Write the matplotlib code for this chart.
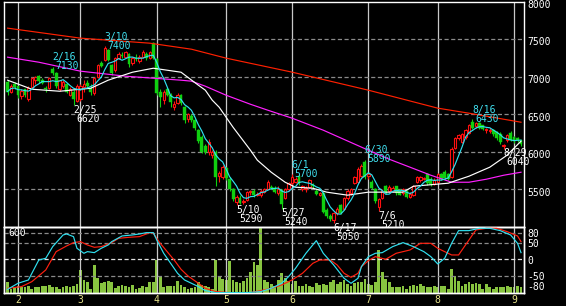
import numpy as np
import pandas as pd
import matplotlib
matplotlib.use('Agg')
import matplotlib.pyplot as plt
from matplotlib.transforms import offset_copy, blended_transform_factory

plt.rcParams['lines.scale_dashes'] = False
plt.rcParams['font.family'] = ['DejaVu Sans Mono']

# ---------------- data ----------------
holidays = ['2022-02-11', '2022-02-23', '2022-03-21', '2022-04-29', '2022-05-03',
            '2022-05-04', '2022-05-05', '2022-07-18', '2022-08-11']
days = pd.bdate_range('2022-01-27', '2022-09-05')
days = days[~days.isin(pd.to_datetime(holidays))]

opens = [6930, 6800, 6900,
         6870, 6740, 6830, 6700, 6860, 6950, 7000, 6960, 6850, 6850,
         7100, 7040, 6830, 6880, 6900, 6760, 6800, 6680,
         6700, 6860, 6920, 6850, 6780, 7000, 7180, 7220, 7350, 7150,
         7080, 7250, 7280, 7260, 7300, 7180, 7240, 7200, 7260, 7300,
         7250, 7440,
         7230, 6800, 6690, 6830, 6760, 6600, 6650, 6760, 6600, 6430,
         6480, 6420, 6290, 6200, 6080, 5990, 5950, 6000, 5680, 5660,
         5780, 5640, 5500, 5330, 5380, 5330, 5360, 5460, 5480, 5430,
         5420, 5470, 5510, 5530, 5520, 5450, 5490, 5380, 5500, 5580,
         5600, 5680, 5500, 5500, 5530, 5560, 5480, 5430, 5450, 5230,
         5140, 5090, 5180, 5290, 5240, 5380, 5450, 5580, 5600, 5680,
         5860, 5680, 5600, 5510, 5260, 5390, 5540, 5480, 5480, 5540,
         5490, 5450, 5480, 5400, 5420, 5600, 5620, 5640, 5700, 5640,
         5570, 5600, 5700, 5730, 5700, 5660, 6050, 6180, 6130, 6190,
         6250, 6400, 6340, 6380, 6350, 6290, 6270, 6290, 6260, 6230,
         6080, 6150, 6250, 6200, 6180, 6150]
highs = [6950, 6900, 6930,
         6880, 6830, 6840, 6870, 7000, 7010, 7020, 6980, 6880, 7000,
         7130, 7060, 6960, 6960, 6910, 6860, 6820, 6900,
         6900, 6950, 6960, 6900, 7000, 7170, 7200, 7400, 7370, 7170,
         7260, 7330, 7320, 7340, 7310, 7260, 7300, 7280, 7350, 7330,
         7340, 7460,
         7250, 6830, 6820, 6850, 6780, 6680, 6780, 6770, 6610, 6520,
         6500, 6430, 6300, 6220, 6100, 6170, 6020, 6020, 5750, 5820,
         5800, 5660, 5520, 5420, 5420, 5370, 5480, 5490, 5500, 5460,
         5500, 5520, 5620, 5560, 5540, 5540, 5500, 5520, 5600, 5700,
         5660, 5690, 5560, 5540, 5640, 5580, 5500, 5470, 5460, 5250,
         5170, 5200, 5260, 5300, 5400, 5500, 5520, 5680, 5790, 5830,
         5890, 5720, 5620, 5520, 5380, 5500, 5560, 5560, 5540, 5550,
         5500, 5520, 5490, 5460, 5560, 5680, 5680, 5660, 5720, 5660,
         5650, 5720, 5720, 5760, 5720, 6060, 6200, 6240, 6250, 6300,
         6370, 6430, 6400, 6390, 6360, 6320, 6310, 6300, 6280, 6260,
         6100, 6240, 6270, 6210, 6200, 6160]
lows = [6750, 6780, 6840,
        6720, 6700, 6730, 6680, 6850, 6900, 6920, 6900, 6790, 6830,
        7020, 6850, 6810, 6850, 6780, 6740, 6620, 6660,
        6680, 6800, 6850, 6760, 6760, 6980, 7120, 7200, 7200, 7020,
        7060, 7230, 7240, 7240, 7130, 7150, 7200, 7180, 7240, 7220,
        7230, 7230,
        6760, 6600, 6640, 6740, 6600, 6560, 6630, 6620, 6380, 6400,
        6400, 6290, 6120, 5980, 5970, 5960, 5920, 5550, 5600, 5640,
        5620, 5480, 5350, 5290, 5300, 5300, 5350, 5420, 5400, 5410,
        5400, 5450, 5500, 5500, 5450, 5430, 5240, 5370, 5480, 5560,
        5580, 5560, 5480, 5470, 5520, 5520, 5430, 5410, 5180, 5120,
        5080, 5050, 5160, 5170, 5230, 5360, 5430, 5570, 5590, 5660,
        5640, 5640, 5500, 5320, 5210, 5370, 5440, 5460, 5460, 5430,
        5420, 5430, 5380, 5380, 5410, 5590, 5600, 5620, 5560, 5550,
        5560, 5590, 5620, 5630, 5630, 5650, 6030, 6160, 6110, 6170,
        6230, 6300, 6310, 6300, 6290, 6250, 6250, 6210, 6160, 6100,
        6040, 6130, 6140, 6120, 6130, 6080]
closes = [6800, 6880, 6860,
          6760, 6810, 6750, 6850, 6980, 6990, 6940, 6910, 6840, 6980,
          7050, 6880, 6950, 6930, 6800, 6840, 6700, 6880,
          6880, 6900, 6880, 6800, 6980, 7150, 7140, 7380, 7220, 7050,
          7240, 7300, 7270, 7320, 7160, 7240, 7230, 7260, 7330, 7250,
          7320, 7250,
          6780, 6730, 6790, 6760, 6660, 6640, 6760, 6650, 6420, 6500,
          6420, 6310, 6140, 6000, 5990, 6130, 6000, 5670, 5720, 5800,
          5650, 5500, 5370, 5400, 5320, 5350, 5460, 5480, 5420, 5440,
          5480, 5500, 5600, 5520, 5460, 5500, 5310, 5500, 5580, 5660,
          5640, 5580, 5540, 5520, 5620, 5540, 5440, 5450, 5200, 5140,
          5100, 5180, 5240, 5190, 5380, 5480, 5500, 5660, 5770, 5810,
          5660, 5700, 5520, 5340, 5370, 5480, 5460, 5530, 5520, 5450,
          5430, 5500, 5400, 5440, 5540, 5660, 5670, 5650, 5580, 5570,
          5620, 5700, 5640, 5650, 5640, 6040, 6180, 6220, 6230, 6290,
          6350, 6320, 6380, 6320, 6300, 6300, 6290, 6230, 6180, 6130,
          6090, 6220, 6160, 6140, 6150, 6100]
volume = [110, 43, 60,
          77, 67, 67, 77, 43, 60, 67, 77, 77, 87,
          60, 67, 43, 60, 77, 60, 77, 93, 233, 133,
          110, 43, 287, 153, 100, 117, 127, 110, 53, 77,
          87, 77, 60, 87, 43, 50, 77, 60, 110, 110,
          333, 167, 67, 77, 77, 77, 127, 87, 67, 43,
          50, 67, 117, 87, 77, 60, 43, 330, 177, 143,
          133, 327, 133, 110, 100, 127, 153, 217, 310, 283,
          653, 133, 110, 93, 77, 133, 200, 153, 120, 93,
          127, 77, 77, 93, 77, 67, 100, 87, 93, 87,
          110, 133, 93, 110, 133, 93, 77, 100, 117, 110,
          143, 93, 87, 110, 433, 217, 143, 110, 67, 67,
          60, 77, 43, 77, 87, 77, 93, 77, 60, 60,
          77, 60, 77, 77, 43, 243, 177, 127, 77, 93,
          110, 93, 100, 93, 43, 93, 60, 43, 60, 60,
          60, 77, 60, 60, 77, 60]

# moving averages (day index, price)
ma25_idx = [-3, 4, 12, 21, 26, 33, 39, 41, 47, 52, 54, 56, 58, 62, 67, 69, 73, 77,
            80, 85, 89, 95, 101, 111, 114, 124, 130, 136, 141, 145]
ma25_val = [6951, 6831, 6804, 6844, 6951, 7057, 7110, 7097, 7057, 6884, 6818, 6685,
            6591, 6325, 6020, 5887, 5727, 5594, 5528, 5514, 5462, 5422, 5462, 5462,
            5541, 5581, 5674, 5794, 5954, 6140]
ma75_idx = [-3, 6, 18, 31, 47, 50, 54, 60, 67, 72, 79, 88, 101, 107, 113, 119, 125,
            130, 135, 140, 145]
ma75_val = [7257, 7190, 7071, 7004, 6951, 6938, 6871, 6751, 6631, 6552, 6446, 6286,
            6020, 5900, 5794, 5687, 5594, 5594, 5634, 5687, 5727]
ma200_idx = [-3, 18, 38, 50, 60, 79, 101, 121, 130, 145]
ma200_val = [7643, 7510, 7443, 7363, 7244, 7058, 6818, 6579, 6512, 6392]

# RCI lines (day index, value)
rci_s_idx = [-3, 0, 3, 4, 6, 8, 10, 13, 14, 16, 17, 19, 20, 22, 24, 26, 27, 30, 33, 35,
             37, 39, 40, 42, 44, 46, 48, 50, 52, 54, 57, 61, 66, 70, 73, 76, 78, 80,
             83, 86, 88, 91, 94, 96, 98, 99, 101, 103, 105, 108, 111, 114, 117, 119,
             121, 123, 125, 127, 130, 133, 136, 139, 142, 144, 145]
rci_s_val = [-90, -72, -62, -42, -2, 3, 38, 73, 76, 68, 33, 18, 23, 20, 33, 43, 53, 70,
             73, 76, 80, 80, 58, 18, -12, -42, -62, -72, -82, -94, -100, -100, -100,
             -97, -87, -72, -52, -27, 18, 56, 18, -17, -57, -72, -57, -22, 8, 18, 20,
             38, 50, 38, 23, 8, -14, 3, 48, 86, 86, 93, 93, 86, 73, 48, 20]
rci_l_idx = [-3, 1, 4, 8, 11, 14, 16, 18, 20, 22, 24, 27, 29, 32, 35, 38, 39, 41, 43,
             45, 47, 49, 52, 54, 57, 61, 67, 70, 73, 76, 79, 82, 85, 87, 90, 92, 94,
             96, 98, 99, 101, 103, 106, 109, 113, 116, 119, 121, 123, 125, 127, 129,
             132, 135, 138, 141, 144, 145]
rci_l_val = [-87, -82, -67, -32, 23, 40, 50, 53, 43, 36, 38, 50, 63, 66, 68, 80, 78,
             48, 23, -2, -30, -50, -72, -87, -97, -100, -100, -94, -87, -77, -62, -42,
             -12, -2, -2, -17, -42, -54, -42, -22, -4, 8, 0, 18, 28, 48, 48, 33, 23,
             13, 13, 43, 88, 93, 93, 83, 70, 53]

label_dates = ['2/16', '3/10', '2/25', '5/10', '5/27', '6/1', '6/17', '6/30', '7/6',
               '8/16', '8/29']
label_values = [7130, 7400, 6620, 5290, 5240, 5700, 5050, 5890, 5210, 6430, 6040]
label_kinds = ['high', 'high', 'low', 'low', 'low', 'high', 'low', 'high', 'low',
               'high', 'low']

price_ticks = [8000, 7500, 7000, 6500, 6000, 5500]
price_grid = [7500, 7000, 6500, 6000, 5500]
rci_ticks = [80, 50, 0, -50, -80]
month_labels = ['2', '3', '4', '5', '6', '7', '8', '9']

# ---------------- layout ----------------
W, H, DPI = 566, 306, 100
fig = plt.figure(figsize=(W / DPI, H / DPI), dpi=DPI, facecolor='black')

left, right = 4.3, 524.3
main_top, main_bot = 1.7, 226.9
sub_bot = 293.3
ax = fig.add_axes([left / W, 1 - main_bot / H, (right - left) / W, (main_bot - main_top) / H])
ax2 = fig.add_axes([left / W, 1 - sub_bot / H, (right - left) / W, (sub_bot - main_bot) / H])
ax3 = ax2.twinx()
ax2.set_zorder(ax3.get_zorder() + 1)
for a in (ax, ax2, ax3):
    a.set_facecolor('none')
    a.patch.set_visible(False)
    for s in a.spines.values():
        s.set_color('white')
        s.set_linewidth(1.0)
    a.tick_params(length=0, labelleft=False, labelright=False, labelbottom=False)

feb1 = days.get_loc(pd.Timestamp('2022-02-01'))
pos = np.arange(len(days)) - feb1
step = 3.469
xlim = ((left - 18) / step, (right - 18) / step)
for a in (ax, ax2, ax3):
    a.set_xlim(*xlim)
ax.set_ylim(5000, 5000 + (main_bot - main_top) / 0.0752)
ax2.set_ylim(-(sub_bot - 259.3) / 0.3333, (259.3 - main_bot) / 0.3333)
ax3.set_ylim(0, (sub_bot - main_bot) * 10)

# month lines
month_starts = [pos[np.argmax((days.month == m) & (days.year == 2022))] for m in range(2, 10)]
for a in (ax, ax2):
    for m in month_starts:
        a.axvline(m, color='#c8c8c8', lw=0.9, zorder=1)

# grids
for g in price_grid:
    ax.axhline(g, color='#8a8a8a', lw=0.9, dashes=(3, 1.8), zorder=1)
for g in [80, 50, -50]:
    ax2.axhline(g, color='#8a8a8a', lw=0.9, dashes=(3, 1.8), zorder=1)
ax2.axhline(0, color='#e0e0e0', lw=0.9, dashes=(3, 1.8), zorder=1)

# candles
o = np.array(opens, float); h = np.array(highs, float)
l = np.array(lows, float); c = np.array(closes, float)
RED, GREEN = '#ff1010', '#10d010'
up = c >= o
ax.vlines(pos, l, h, colors=np.where(up, RED, GREEN), lw=0.8, zorder=2)
bot = np.minimum(o, c)
hgt = np.maximum(np.abs(c - o), 6)
ax.bar(pos[up], hgt[up], bottom=bot[up], width=0.68, facecolor='black',
       edgecolor=RED, linewidth=0.8, zorder=3)
ax.bar(pos[~up], hgt[~up], bottom=bot[~up], width=0.82, facecolor=GREEN,
       edgecolor=GREEN, linewidth=0.3, zorder=3)

# moving averages
ma5 = pd.Series(c).rolling(5, min_periods=1).mean().values
ax.plot(ma200_idx, ma200_val, color='#ff2000', lw=0.85, zorder=4)
ax.plot(ma75_idx, ma75_val, color='#ff20ff', lw=0.85, zorder=4)
ax.plot(ma25_idx, ma25_val, color='white', lw=0.85, zorder=4)
ax.plot(pos, ma5, color='#30e0f0', lw=0.85, zorder=5)

# volume + RCI
ax3.bar(pos, volume, width=0.8, color='#88c440', zorder=2)
ax2.plot(rci_l_idx, rci_l_val, color='#ff2010', lw=0.85, zorder=4)
ax2.plot(rci_s_idx, rci_s_val, color='#30e0f0', lw=0.85, zorder=5)

# peak / trough labels
for d, v, k in zip(label_dates, label_values, label_kinds):
    mm, dd = d.split('/')
    i = pos[days.get_loc(pd.Timestamp(2022, int(mm), int(dd)))]
    col = '#40e0f0' if k == 'high' else 'white'
    if k == 'high':
        dy_date, dy_val = 10.5, 1.5
    else:
        dy_date, dy_val = -3.5, -12.5
    fig.text(i, v, d, color=col, fontsize=7, ha='left', va='center_baseline',
             transform=offset_copy(ax.transData, fig=fig, x=-0.5, y=dy_date, units='dots'),
             zorder=10)
    fig.text(i, v, str(v), color=col, fontsize=7, ha='left', va='center_baseline',
             transform=offset_copy(ax.transData, fig=fig, x=2.5, y=dy_val, units='dots'),
             zorder=10)

# axis labels
tr = blended_transform_factory(ax.transAxes, ax.transData)
for t in price_ticks:
    fig.text(1, t, str(t), color='white', fontsize=7, ha='left', va='center_baseline',
             transform=offset_copy(tr, fig=fig, x=2.7, y=-2.5, units='dots'))
tr2 = blended_transform_factory(ax2.transAxes, ax2.transData)
for t in rci_ticks:
    fig.text(1, t, str(t), color='white', fontsize=7, ha='left', va='center_baseline',
             transform=offset_copy(tr2, fig=fig, x=2.7, y=-0.5, units='dots'))
fig.text(8 / W, 1 - 231.5 / H, '600', color='white', fontsize=7, ha='left',
         va='center_baseline')

ax2.set_xticks(month_starts)
ax2.set_xticklabels(month_labels)
ax2.tick_params(axis='x', labelbottom=True, colors='#e8e48c', labelsize=7, pad=1.2, length=0)
for tl in ax2.get_xticklabels():
    tl.set_color('#e8e48c')
ax.set_xticks([]); ax.set_yticks([])
ax2.set_yticks([]); ax3.set_yticks([])

fig.savefig('out.png', dpi=DPI, facecolor='black')
